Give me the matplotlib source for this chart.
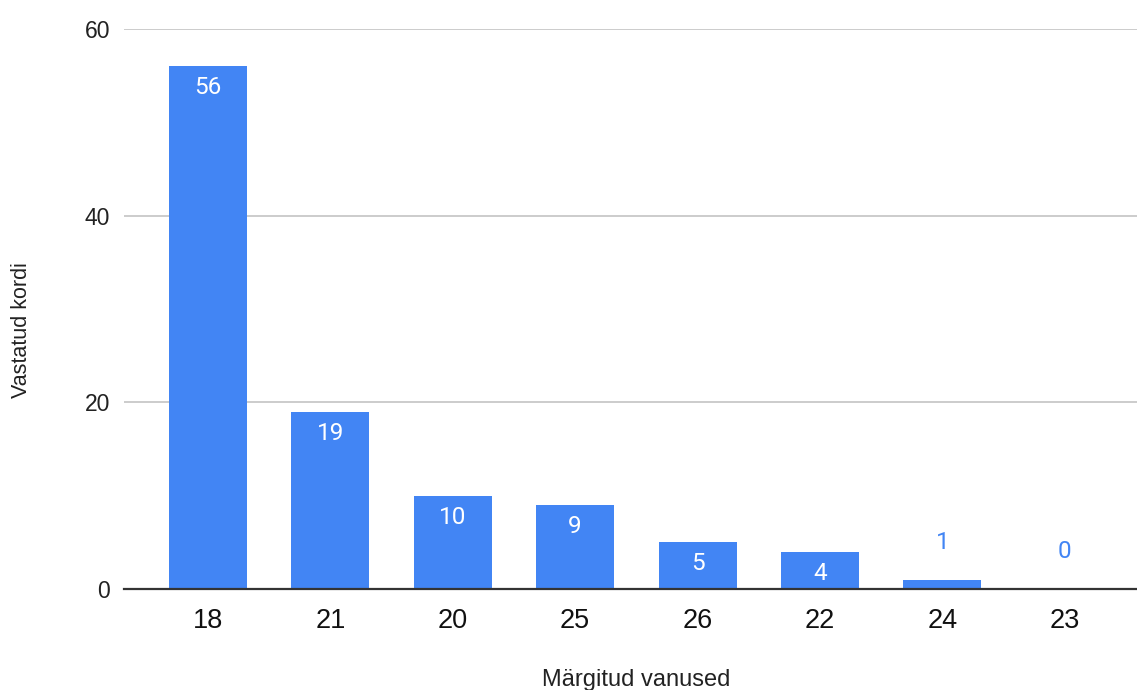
import matplotlib
matplotlib.use("Agg")
import matplotlib.pyplot as plt

# Survey answers: ages reported and how many times each was answered
ages = ["18", "21", "20", "25", "26", "22", "24", "23"]
counts = [56, 19, 10, 9, 5, 4, 1, 0]
y_ticks = [0, 20, 40, 60]

bar_color = "#4285F4"
grid_color = "#cccccc"
text_color = "#222222"

fig = plt.figure(figsize=(11.37, 6.9), dpi=100)
ax = fig.add_axes([124 / 1137, 101 / 690, 1 - 124 / 1137, 560 / 690])

x = list(range(len(ages)))
bars = ax.bar(x, counts, width=0.637, color=bar_color, zorder=3)

ax.set_xlim(-0.686, 7.59)
ax.set_ylim(0, 60)
ax.set_yticks(y_ticks)
ax.set_yticklabels([str(v) for v in y_ticks], fontsize=16.5,
                   family="Liberation Sans", color=text_color)
ax.set_xticks(x)
ax.set_xticklabels(ages, fontsize=19.5, family="Liberation Sans", color="#111111")
ax.tick_params(axis="y", length=0, pad=10)
ax.tick_params(axis="x", length=0, pad=14)

ax.grid(axis="y", color=grid_color, linewidth=1.4, zorder=0)
for side in ["top", "right", "left"]:
    ax.spines[side].set_visible(False)
ax.spines["bottom"].set_color("#333333")
ax.spines["bottom"].set_linewidth(1.6)
ax.spines["bottom"].set_zorder(4)

# value labels: inside tall bars in white, above short bars in blue
for xi, v in zip(x, counts):
    if v >= 3:
        ax.annotate(str(v), (xi, v), xytext=(0, -15.5), textcoords="offset points",
                    ha="center", va="center", color="white", fontsize=17.5,
                    family="Roboto", zorder=5)
    else:
        ax.annotate(str(v), (xi, v), xytext=(0, 27), textcoords="offset points",
                    ha="center", va="center", color=bar_color, fontsize=17.5,
                    family="Roboto", zorder=5)

fig.text(636 / 1137, 1 - 680 / 690, "Märgitud vanused", ha="center", va="center",
         fontsize=17, family="Liberation Sans", color=text_color)
fig.text(22 / 1137, 1 - 330 / 690, "Vastatud kordi", ha="center", va="center",
         rotation=90, fontsize=15.5, family="Liberation Sans", color=text_color)

fig.savefig("out.png", dpi=100)
